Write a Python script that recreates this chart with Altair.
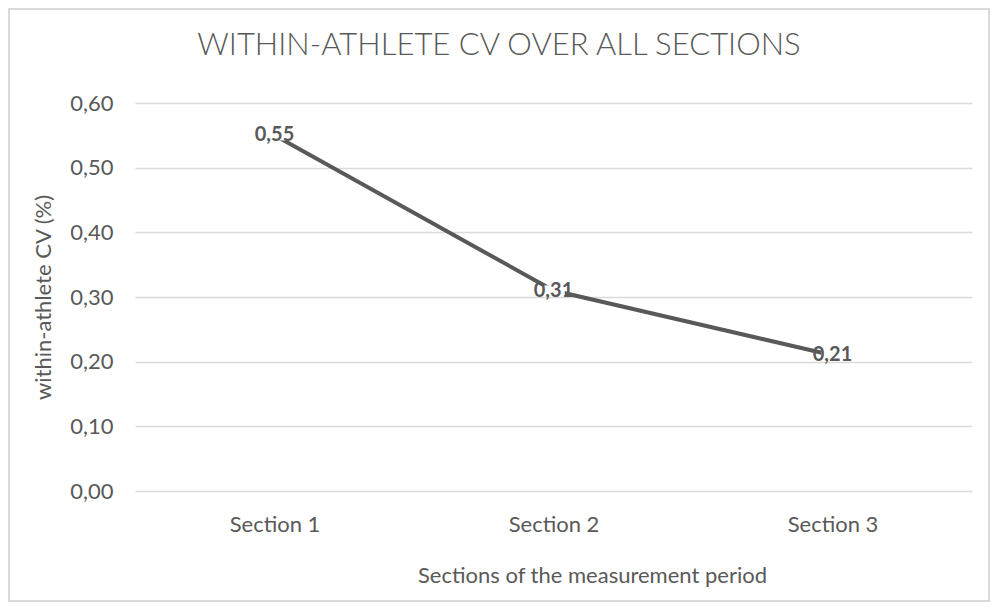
import altair as alt
import pandas as pd

sections = ["Section 1", "Section 2", "Section 3"]
cv = [0.55, 0.31, 0.21]
y_ticks = [0.0, 0.1, 0.2, 0.3, 0.4, 0.5, 0.6]
chart_title = ["WITHIN-ATHLETE CV OVER ALL SECTIONS"]

df = pd.DataFrame({"section": sections, "cv": cv})

FONT = "Lato"
GREY = "#595959"
W, H = 837, 388
PL, PT, PR, PB = 127, 95, 18, 111

x_enc = alt.X(
    "section:N",
    sort=sections,
    scale=alt.Scale(type="point", padding=0.5),
    axis=alt.Axis(
        title="Sections of the measurement period",
        titleX=457,
        titleY=84,
        titleBaseline="middle",
        labelAngle=0,
        labelPadding=23,
        domain=False,
        ticks=False,
        grid=False,
    ),
)
y_enc = alt.Y(
    "cv:Q",
    scale=alt.Scale(domain=[0, 0.6], nice=False, zero=True),
    axis=alt.Axis(
        title="within-athlete CV (%)",
        values=y_ticks,
        labelExpr="replace(format(datum.value, '.2f'), '.', ',')",
        labelPadding=22,
        titleX=-92,
        titleY=194,
        titleAngle=-90,
        titleBaseline="middle",
        titleAlign="center",
        domain=False,
        ticks=False,
    ),
)

base = alt.Chart(df).encode(x=x_enc, y=y_enc)

line = base.mark_line(color=GREY, strokeWidth=4)

boxes = base.mark_point(
    shape="M-1.1,-0.5L1.1,-0.5L1.1,0.5L-1.1,0.5Z",
    size=420,
    filled=True,
    fill="white",
    opacity=1,
    strokeWidth=0,
)

labels = base.transform_calculate(
    lab="replace(format(datum.cv, '.2f'), '.', ',')"
).mark_text(
    font=FONT, fontSize=20, fontWeight="bold", color=GREY, align="center", baseline="middle"
).encode(text="lab:N")

frame = alt.Chart(df).mark_rect(filled=False, stroke="#d9d9d9", strokeWidth=1.5).encode(
    x=alt.value(-PL + 1),
    x2=alt.value(W + PR - 1),
    y=alt.value(-PT + 1),
    y2=alt.value(H + PB - 1),
)

title = alt.Chart(pd.DataFrame({"t": chart_title})).mark_text(
    font=FONT, fontSize=31, fontWeight=300, color=GREY, align="center", baseline="alphabetic"
).encode(
    text="t:N",
    x=alt.value(364),
    y=alt.value(-48),
)

chart = (
    alt.layer(frame, line, boxes, labels, title)
    .properties(
        width=W,
        height=H,
        padding={"left": PL, "top": PT, "right": PR, "bottom": PB},
        autosize=alt.AutoSizeParams(type="none"),
    )
    .configure_view(stroke=None)
    .configure_axis(
        labelFont=FONT,
        titleFont=FONT,
        labelFontSize=22,
        titleFontSize=22,
        labelColor=GREY,
        titleColor=GREY,
        titleFontWeight="normal",
        gridColor="#d9d9d9",
        gridWidth=1.3,
    )
)

chart.save("out.html", embed_options={"renderer": "svg", "actions": False})
